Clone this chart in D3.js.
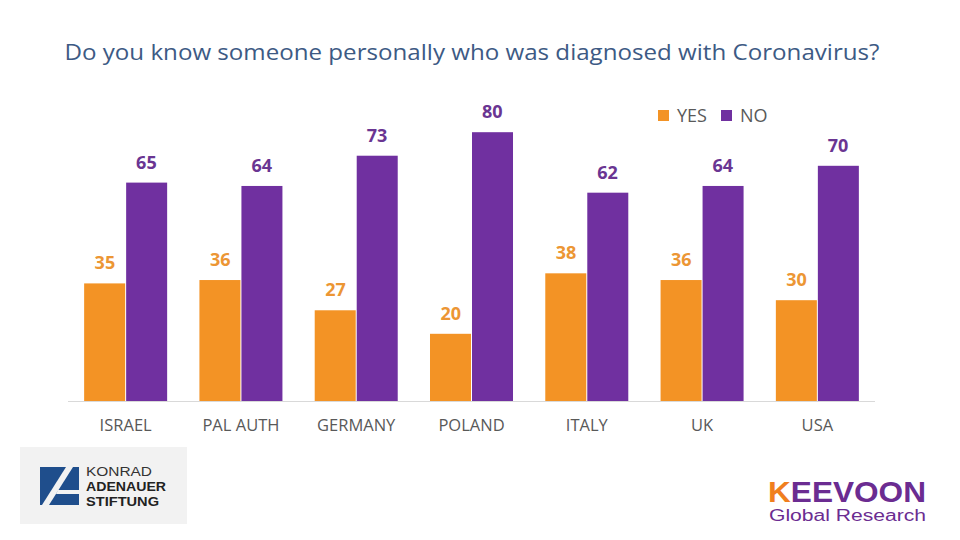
<!DOCTYPE html>
<html><head><meta charset="utf-8">
<script src="https://cdn.jsdelivr.net/npm/d3@7"></script>
<style>body{margin:0;background:#fff}svg{display:block}</style>
</head><body>
<svg id="c" width="960" height="540"></svg>
<script>
const categories = ["ISRAEL","PAL AUTH","GERMANY","POLAND","ITALY","UK","USA"];
const yesValues = [35,36,27,20,38,36,30];
const noValues = [65,64,73,80,62,64,70];
const seriesNames = ["YES","NO"];
const colors = {YES:"#F39325", NO:"#7030A0"};
const labelColors = {YES:"#EC9634", NO:"#6A3592"};

const svg = d3.select("#c");
const font = "'Open Sans', sans-serif";
const lib = "'Liberation Sans', Arial, sans-serif";

svg.append("text").attr("x",472).attr("y",60).attr("text-anchor","middle")
  .attr("font-family",font).attr("font-size",22).attr("fill","#3D5A84")
  .attr("textLength",815).attr("lengthAdjust","spacingAndGlyphs")
  .text("Do you know someone personally who was diagnosed with Coronavirus?");

const x0 = d3.scaleBand().domain(categories).range([68,875]).paddingInner(0.28).paddingOuter(0.14);
const x1 = d3.scaleBand().domain(seriesNames).range([0,x0.bandwidth()]);
const y = d3.scaleLinear().domain([0,90]).range([401,98.6]);

const data = categories.map((c,i)=>({cat:c, vals:[{s:"YES",v:yesValues[i]},{s:"NO",v:noValues[i]}]}));

const g = svg.selectAll("g.grp").data(data).join("g").attr("class","grp")
  .attr("transform",d=>`translate(${x0(d.cat)},0)`);
g.selectAll("rect").data(d=>d.vals).join("rect")
  .attr("x",d=>x1(d.s)+(d.s==="NO"?0.5:0)).attr("width",x1.bandwidth()-0.5)
  .attr("y",d=>y(d.v)).attr("height",d=>y(0)-y(d.v)).attr("fill",d=>colors[d.s]);
g.selectAll("text.lbl").data(d=>d.vals).join("text").attr("class","lbl")
  .attr("x",d=>x1(d.s)+x1.bandwidth()/2).attr("y",d=>y(d.v)-14)
  .attr("text-anchor","middle").attr("font-family",font).attr("font-weight","bold")
  .attr("font-size",18).attr("fill",d=>labelColors[d.s]).text(d=>d.v);

svg.append("line").attr("x1",68).attr("x2",875).attr("y1",401.5).attr("y2",401.5)
  .attr("stroke","#D9D9D9").attr("stroke-width",1);

const xAxis = svg.append("g").attr("transform","translate(0,401)")
  .call(d3.axisBottom(x0).tickSize(0).tickPadding(18));
xAxis.select(".domain").remove();
xAxis.selectAll("text").attr("font-family",font).attr("font-size",16.5).attr("fill","#595959");

// legend
const leg = svg.append("g").attr("transform","translate(658,108)");
const li = leg.selectAll("g").data(seriesNames).join("g").attr("transform",(d,i)=>`translate(${i*63},0)`);
li.append("rect").attr("width",11).attr("height",11).attr("y",2).attr("fill",d=>colors[d]);
li.append("text").attr("x",19).attr("y",14).attr("font-family",font).attr("font-size",18)
  .attr("fill","#595959").text(d=>d);

// Konrad Adenauer logo
const ka = svg.append("g");
ka.append("rect").attr("x",20).attr("y",447).attr("width",167).attr("height",77).attr("fill","#F2F2F2");
ka.append("rect").attr("x",40).attr("y",467).attr("width",39).attr("height",38).attr("fill","#1F4E8C");
ka.append("path").attr("d","M66,467 L73,467 L49,505 L42,505 Z").attr("fill","#F2F2F2");
ka.append("path").attr("d","M58,490 L79,490 L79,494 L56,494 Z").attr("fill","#F2F2F2");
ka.append("text").attr("x",86).attr("y",476).attr("font-family",lib).attr("font-size",12.5)
  .attr("textLength",66).attr("lengthAdjust","spacingAndGlyphs").attr("fill","#333").text("KONRAD");
ka.append("text").attr("x",86).attr("y",491).attr("font-family",lib).attr("font-weight","bold").attr("font-size",13)
  .attr("textLength",80).attr("lengthAdjust","spacingAndGlyphs").attr("fill","#222").text("ADENAUER");
ka.append("text").attr("x",86).attr("y",506).attr("font-family",lib).attr("font-weight","bold").attr("font-size",13)
  .attr("textLength",73).attr("lengthAdjust","spacingAndGlyphs").attr("fill","#222").text("STIFTUNG");

// Keevoon logo
const kv = svg.append("g");
const kt = kv.append("text").attr("x",768).attr("y",502).attr("font-family",lib)
  .attr("font-weight","bold").attr("font-size",30).attr("textLength",158).attr("lengthAdjust","spacingAndGlyphs");
kt.append("tspan").attr("fill","#F07F1E").text("K");
kt.append("tspan").attr("fill","#6B2C91").text("EEVOON");
kv.append("text").attr("x",769).attr("y",521).attr("font-family",lib)
  .attr("font-size",16).attr("fill","#6B2C91").attr("textLength",157).attr("lengthAdjust","spacingAndGlyphs").text("Global Research");
</script>
</body></html>
